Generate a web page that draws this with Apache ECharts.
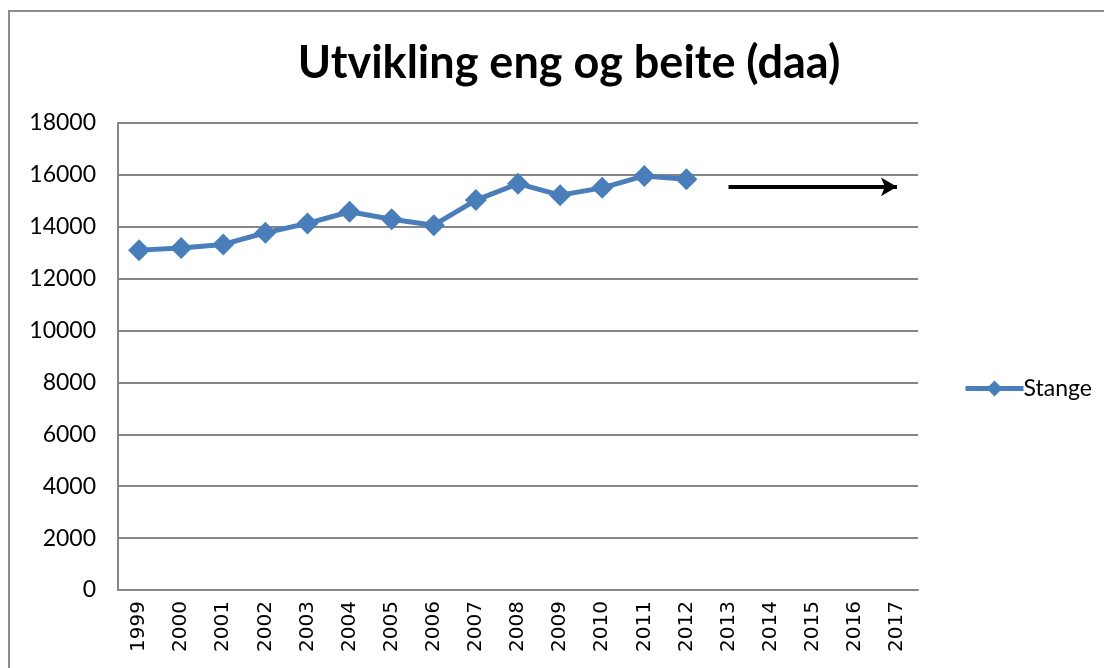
<!DOCTYPE html>
<html>
<head>
<meta charset="utf-8">
<script src="https://cdn.jsdelivr.net/npm/echarts@6/dist/echarts.min.js"></script>
<style>
  html, body { margin: 0; padding: 0; background: #fff; }
  #chart { width: 1104px; height: 668px; }
</style>
</head>
<body>
<div id="chart"></div>
<script>
// years on the x axis (series stops at 2012)
const years = ['1999', '2000', '2001', '2002', '2003', '2004', '2005', '2006', '2007',
  '2008', '2009', '2010', '2011', '2012', '2013', '2014', '2015', '2016', '2017'];
const stange = [13100, 13180, 13320, 13770, 14130, 14580, 14290, 14060, 15030,
  15660, 15220, 15500, 15960, 15830];
const yTicks = [0, 2000, 4000, 6000, 8000, 10000, 12000, 14000, 16000, 18000];
// arrow annotation (trend continues)
const arrowFrom = ['2013', 15540];
const arrowTo = ['2017', 15540];

const chart = echarts.init(document.getElementById('chart'));

const option = {
  animation: false,
  backgroundColor: '#fff',
  textStyle: { fontFamily: 'Lato, "Open Sans", sans-serif' },
  title: {
    text: 'Utvikling eng og beite (daa)',
    left: 564,
    top: 36,
    textAlign: 'center',
    textStyle: { fontSize: 45, fontWeight: 'bold', color: '#000', fontFamily: 'Lato, sans-serif' }
  },
  graphic: [{
    type: 'rect',
    shape: { x: 9, y: 11, width: 1200, height: 700 },
    style: { fill: 'none', stroke: '#8c8c8c', lineWidth: 2 },
    silent: true
  }],
  legend: {
    orient: 'vertical',
    left: 958,
    top: 372,
    itemWidth: 58,
    itemHeight: 20,
    itemGap: 4,
    lineStyle: { width: 5 },
    textStyle: { fontSize: 23, color: '#000', padding: [0, 0, 0, -5] },
    data: ['Stange']
  },
  grid: { left: 118, right: 186, top: 123, bottom: 78 },
  xAxis: {
    type: 'category',
    data: years,
    boundaryGap: true,
    axisLine: { lineStyle: { color: '#868686', width: 2 } },
    axisTick: { show: false },
    axisLabel: { rotate: 90, fontSize: 20, color: '#000', margin: 11, fontFamily: '"DejaVu Sans", sans-serif' }
  },
  yAxis: {
    type: 'value',
    min: yTicks[0],
    max: yTicks[yTicks.length - 1],
    interval: 2000,
    axisLine: { show: true, lineStyle: { color: '#868686', width: 2 } },
    axisTick: { show: false },
    axisLabel: { fontSize: 23, color: '#000', margin: 22, formatter: v => String(v) },
    splitLine: { lineStyle: { color: '#868686', width: 2 } }
  },
  series: [{
    name: 'Stange',
    type: 'line',
    data: stange,
    symbol: 'diamond',
    symbolSize: 22,
    itemStyle: { color: '#4a7ebb' },
    lineStyle: { color: '#4a7ebb', width: 5 },
    markLine: {
      silent: true,
      symbol: ['none', 'arrow'],
      symbolSize: [14, 16],
      label: { show: false },
      lineStyle: { color: '#000', width: 4, type: 'solid' },
      data: [[{ coord: arrowFrom }, { coord: arrowTo }]]
    }
  }]
};

chart.setOption(option);
</script>
</body>
</html>
